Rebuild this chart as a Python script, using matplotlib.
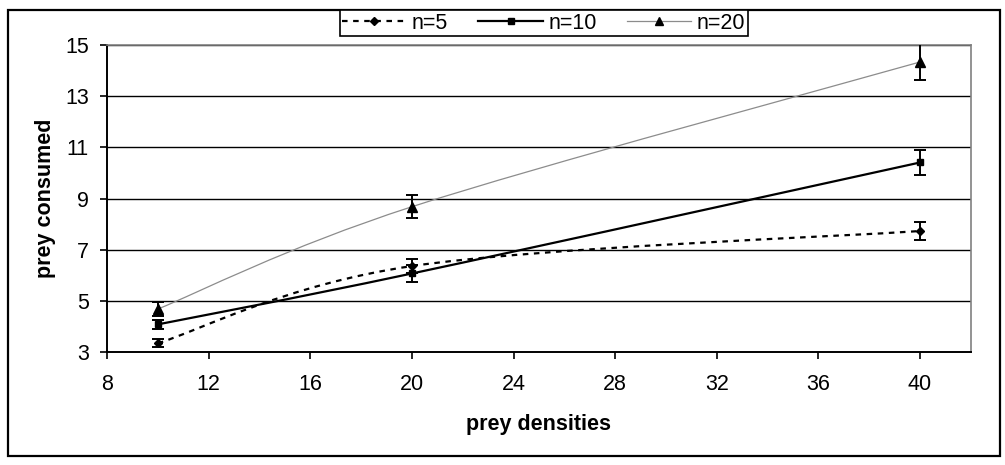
import matplotlib
matplotlib.use('Agg')

import numpy as np
import matplotlib.pyplot as plt
from matplotlib.path import Path
from matplotlib.patches import PathPatch, Rectangle
from matplotlib.lines import Line2D

plt.rcParams['font.family'] = ['Liberation Sans', 'DejaVu Sans']

densities = [10, 20, 40]
labels = ['n=5', 'n=10', 'n=20']
consumed = {
    'n=5': [3.34, 6.36, 7.73],
    'n=10': [4.08, 6.07, 10.41],
    'n=20': [4.68, 8.68, 14.34],
}
errors = {
    'n=5': [0.15, 0.27, 0.37],
    'n=10': [0.18, 0.35, 0.50],
    'n=20': [0.26, 0.44, 0.72],
}
xticks = [8, 12, 16, 20, 24, 28, 32, 36, 40]
yticks = [3, 5, 7, 9, 11, 13, 15]

styles = {
    'n=5': dict(color='black', lw=1.6, ls=(0, (2.5, 2.5)), marker='D', ms=4.5),
    'n=10': dict(color='black', lw=1.6, ls='-', marker='s', ms=5),
    'n=20': dict(color='#8c8c8c', lw=0.9, ls='-', marker='^', ms=6.5),
}


def smooth_path(xs, ys):
    # excel-like smoothed line: cubic bezier, catmull-rom control points
    pts = np.column_stack([xs, ys]).astype(float)
    ext = np.vstack([pts[0], pts, pts[-1]])
    verts = [pts[0]]
    codes = [Path.MOVETO]
    for i in range(len(pts) - 1):
        p0, p1, p2, p3 = ext[i], ext[i + 1], ext[i + 2], ext[i + 3]
        verts += [p1 + (p2 - p0) / 6, p2 - (p3 - p1) / 6, p2]
        codes += [Path.CURVE4] * 3
    return Path(verts, codes)


fig = plt.figure(figsize=(10.05, 4.65), dpi=100)
ax = fig.add_axes([0.1065, 0.243, 0.8595, 0.66])

for y in yticks[1:]:
    ax.axhline(y, color='black', lw=1.0, zorder=1)

handles = []
for name in labels:
    st = styles[name]
    patch = PathPatch(smooth_path(densities, consumed[name]), fill=False,
                      edgecolor=st['color'], lw=st['lw'], linestyle=st['ls'],
                      zorder=3)
    ax.add_patch(patch)
    ax.errorbar(densities, consumed[name], yerr=errors[name], fmt=st['marker'],
                ms=st['ms'], color='black', ecolor='black', elinewidth=1.4,
                capsize=4, capthick=1.4, zorder=4)
    handles.append(Line2D([], [], color=st['color'], lw=st['lw'], ls=st['ls'],
                          marker=st['marker'], ms=st['ms'] - 0.5,
                          mfc='black', mec='black'))

ax.set_xlim(8, 42)
ax.set_ylim(3, 15)
ax.set_xticks(xticks)
ax.set_yticks(yticks)
ax.tick_params(labelsize=15.5, length=5, width=1.2, direction='out')
ax.tick_params(axis='x', pad=11)
ax.tick_params(axis='y', pad=8)
for side in ['top', 'right']:
    ax.spines[side].set_color('#808080')
    ax.spines[side].set_linewidth(1.2)
for side in ['left', 'bottom']:
    ax.spines[side].set_linewidth(1.4)

fig.text(0.045, 0.573, 'prey consumed', rotation=90, ha='center', va='center',
         fontsize=15.5, fontweight='bold')
fig.text(0.536, 0.088, 'prey densities', ha='center', va='center',
         fontsize=15.5, fontweight='bold')

fig.patches.append(Rectangle((8 / 1005, 1 - 456 / 465), 992 / 1005, 446 / 465,
                             transform=fig.transFigure, fill=False,
                             edgecolor='black', lw=1.6, zorder=0))

leg = fig.legend(handles, labels, loc='center', bbox_to_anchor=(0.541, 0.9505),
                 ncol=3, fontsize=15.5, frameon=True, fancybox=False,
                 handlelength=3.0, handletextpad=0.25, columnspacing=1.4,
                 borderpad=0.1, borderaxespad=0)
leg.get_frame().set_edgecolor('black')
leg.get_frame().set_linewidth(1.2)
leg.get_frame().set_alpha(1)

fig.savefig('out.png', dpi=100, facecolor='white')
